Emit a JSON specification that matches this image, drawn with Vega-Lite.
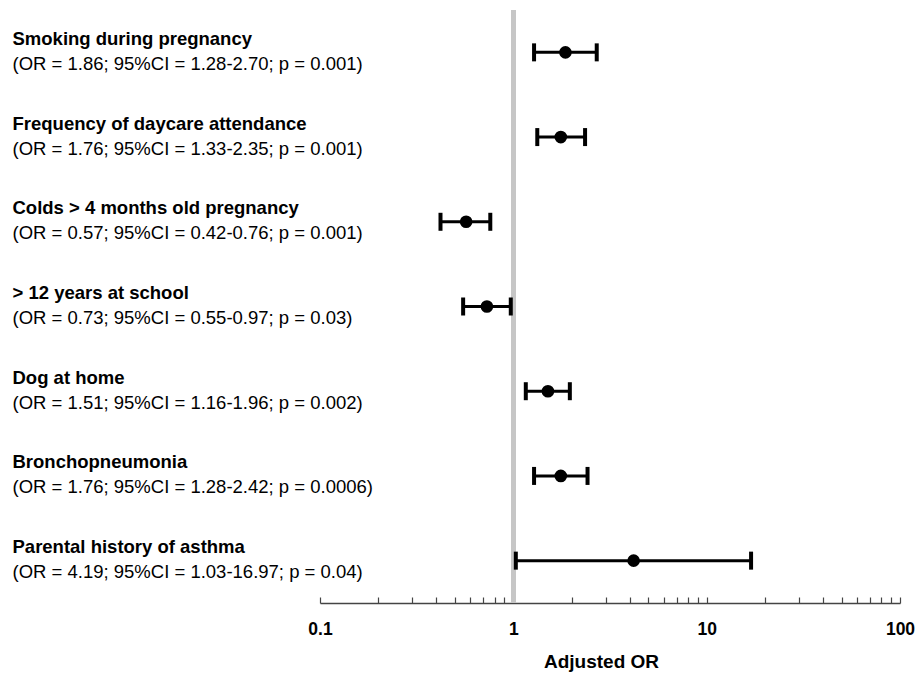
{
  "$schema": "https://vega.github.io/schema/vega-lite/v6.json",
  "width": 580,
  "height": 593,
  "autosize": "none",
  "padding": {"left": 320, "top": 10, "right": 16, "bottom": 72},
  "background": "white",
  "config": {
    "view": {"stroke": null},
    "font": "Liberation Sans"
  },
  "data": {
    "values": [
      {"name": "Smoking during pregnancy", "stats": "(OR = 1.86; 95%CI = 1.28-2.70; p = 0.001)", "or": 1.86, "lo": 1.28, "hi": 2.70},
      {"name": "Frequency of daycare attendance", "stats": "(OR = 1.76; 95%CI = 1.33-2.35; p = 0.001)", "or": 1.76, "lo": 1.33, "hi": 2.35},
      {"name": "Colds > 4 months old pregnancy", "stats": "(OR = 0.57; 95%CI = 0.42-0.76; p = 0.001)", "or": 0.57, "lo": 0.42, "hi": 0.76},
      {"name": "> 12 years at school", "stats": "(OR = 0.73; 95%CI = 0.55-0.97; p = 0.03)", "or": 0.73, "lo": 0.55, "hi": 0.97},
      {"name": "Dog at home", "stats": "(OR = 1.51; 95%CI = 1.16-1.96; p = 0.002)", "or": 1.51, "lo": 1.16, "hi": 1.96},
      {"name": "Bronchopneumonia", "stats": "(OR = 1.76; 95%CI = 1.28-2.42; p = 0.0006)", "or": 1.76, "lo": 1.28, "hi": 2.42},
      {"name": "Parental history of asthma", "stats": "(OR = 4.19; 95%CI = 1.03-16.97; p = 0.04)", "or": 4.19, "lo": 1.03, "hi": 16.97}
    ]
  },
  "layer": [
    {
      "mark": {"type": "rule", "color": "#c6c6c6", "strokeWidth": 4.5},
      "encoding": {
        "x": {"datum": 1, "type": "quantitative", "scale": {"type": "log", "domain": [0.1, 100]}}
      }
    },
    {
      "mark": {"type": "rule", "color": "black", "strokeWidth": 3},
      "encoding": {
        "y": {
          "field": "name", "type": "nominal", "sort": null,
          "scale": {"type": "point", "padding": 0.5},
          "axis": {
            "orient": "left", "title": null, "domain": false, "ticks": false,
            "labelAlign": "left", "labelPadding": 308, "labelOffset": -14,
            "labelFontSize": 18.5, "labelFontWeight": "bold", "labelColor": "black",
            "labelLimit": 0, "labelBaseline": "middle"
          }
        },
        "x": {
          "field": "lo", "type": "quantitative",
          "scale": {"type": "log", "domain": [0.1, 100]},
          "axis": {
            "title": "Adjusted OR",
            "values": [0.1, 0.2, 0.3, 0.4, 0.5, 0.6, 0.7, 0.8, 0.9, 1, 2, 3, 4, 5, 6, 7, 8, 9, 10, 20, 30, 40, 50, 60, 70, 80, 90, 100],
            "labelExpr": "indexof([0.1, 1, 10, 100], datum.value) >= 0 ? format(datum.value, '~g') : ''",
            "grid": false,
            "domainColor": "#444444", "domainWidth": 1.5,
            "tickColor": "#444444", "tickWidth": 1.2, "tickSize": -6,
            "labelFontSize": 17.5, "labelFontWeight": "bold", "labelColor": "black",
            "labelPadding": 23, "labelFlush": false, "labelOverlap": false,
            "titleFontSize": 19, "titleFontWeight": "bold", "titleColor": "black",
            "titlePadding": 15, "titleX": 281
          }
        },
        "x2": {"field": "hi"}
      }
    },
    {
      "mark": {"type": "tick", "color": "black", "opacity": 1, "thickness": 4, "size": 18},
      "encoding": {
        "y": {"field": "name", "type": "nominal", "sort": null, "scale": {"type": "point", "padding": 0.5}, "axis": null},
        "x": {"field": "lo", "type": "quantitative"}
      }
    },
    {
      "mark": {"type": "tick", "color": "black", "opacity": 1, "thickness": 4, "size": 18},
      "encoding": {
        "y": {"field": "name", "type": "nominal", "sort": null, "scale": {"type": "point", "padding": 0.5}, "axis": null},
        "x": {"field": "hi", "type": "quantitative"}
      }
    },
    {
      "mark": {"type": "point", "filled": true, "color": "black", "opacity": 1, "size": 160},
      "encoding": {
        "y": {
          "field": "stats", "type": "nominal", "sort": null,
          "scale": {"type": "point", "padding": 0.5},
          "axis": {
            "orient": "left", "title": null, "domain": false, "ticks": false,
            "labelAlign": "left", "labelPadding": 308, "labelOffset": 11,
            "labelFontSize": 18.5, "labelFontWeight": "normal", "labelColor": "black",
            "labelLimit": 0, "labelBaseline": "middle"
          }
        },
        "x": {"field": "or", "type": "quantitative"}
      }
    }
  ],
  "resolve": {"scale": {"y": "independent"}, "axis": {"y": "independent"}}
}
